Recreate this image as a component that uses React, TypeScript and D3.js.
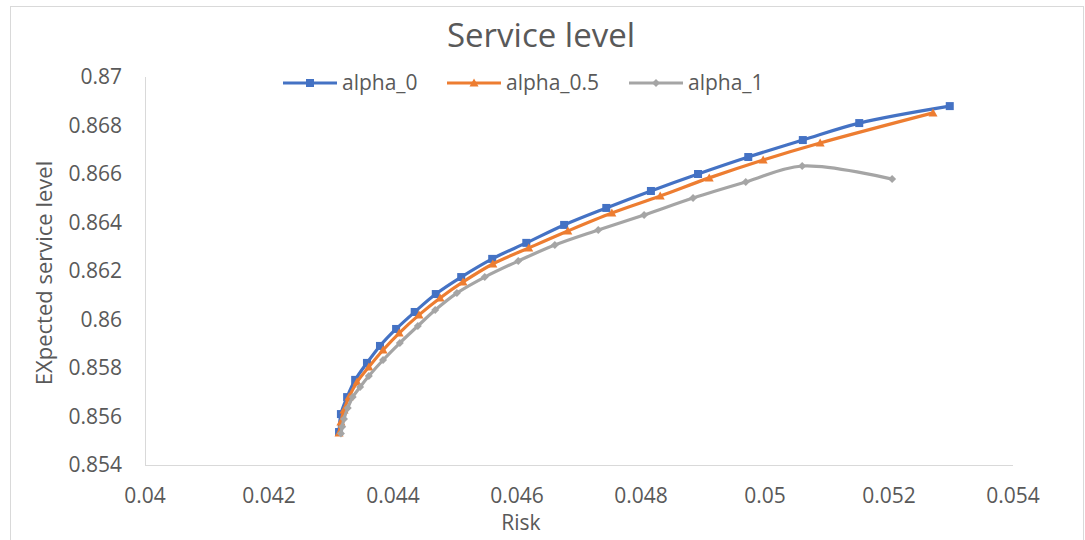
import * as d3 from "d3";
import React from "react";

// Risk (x) / Expected service level (y)
const alpha0Risk = [
  0.04313, 0.04316, 0.04326, 0.04339, 0.04358, 0.04379, 0.04405, 0.04435, 0.04469, 0.0451,
  0.0456, 0.04615, 0.04676, 0.04744, 0.04816, 0.04892, 0.04973, 0.05061, 0.05152, 0.05298,
];
const alpha0Level = [
  0.85536, 0.8561, 0.8568, 0.85751, 0.85821, 0.85891, 0.85961, 0.86031, 0.86105, 0.86175,
  0.8625, 0.86316, 0.8639, 0.8646, 0.8653, 0.866, 0.8667, 0.8674, 0.8681, 0.8688,
];
const alpha05Risk = [
  0.04313, 0.04316, 0.04321, 0.04329, 0.04342, 0.04361, 0.04384, 0.0441, 0.04442, 0.04476,
  0.04513, 0.04561, 0.04619, 0.04682, 0.04753, 0.04831, 0.0491, 0.04997, 0.05089, 0.05271,
];
const alpha05Level = [
  0.85532, 0.85577, 0.85627, 0.8568, 0.85742, 0.85804, 0.85874, 0.85944, 0.86019, 0.86089,
  0.86155, 0.86229, 0.86295, 0.86365, 0.86439, 0.86509, 0.86584, 0.86658, 0.86728, 0.86852,
];
const alpha1Risk = [
  0.04316, 0.04318, 0.04321, 0.04327, 0.04335, 0.04347, 0.04361, 0.04384, 0.04411, 0.0444,
  0.04468, 0.04503, 0.04548, 0.04602, 0.04661, 0.04731, 0.04805, 0.04884, 0.04969, 0.0506,
  0.05205,
];
const alpha1Level = [
  0.8553, 0.85558, 0.8559, 0.85635, 0.8568, 0.85722, 0.85767, 0.85833, 0.85903, 0.85973,
  0.86039, 0.86109, 0.86175, 0.86241, 0.86307, 0.86369, 0.86431, 0.86501, 0.86567, 0.86633,
  0.86579,
];

const xTicks = [0.04, 0.042, 0.044, 0.046, 0.048, 0.05, 0.052, 0.054];
const yTicks = [0.854, 0.856, 0.858, 0.86, 0.862, 0.864, 0.866, 0.868, 0.87];

const seriesNames = ["alpha_0", "alpha_0.5", "alpha_1"];
const seriesColors = ["#4472C4", "#ED7D31", "#A5A5A5"];
const seriesMarkers = ["square", "triangle", "diamond"];

const FONT = "'Open Sans', 'Noto Sans', sans-serif";
const TEXT = "#595959";
const AXIS = "#D9D9D9";

const Marker = ({ kind, x, y, color }: { kind: string; x: number; y: number; color: string }) => {
  if (kind === "square") {
    return <rect x={x - 4} y={y - 4} width={8} height={8} fill={color} />;
  }
  if (kind === "triangle") {
    return <path d={`M${x},${y - 4.5}L${x + 4.5},${y + 3.5}L${x - 4.5},${y + 3.5}Z`} fill={color} />;
  }
  return <path d={`M${x},${y - 4}L${x + 4},${y}L${x},${y + 4}L${x - 4},${y}Z`} fill={color} />;
};

export default function App() {
  const width = 1085;
  const height = 540;
  const x = d3.scaleLinear().domain([0.04, 0.054]).range([145, 1013]);
  const y = d3.scaleLinear().domain([0.854, 0.87]).range([465, 77]);

  const series = [
    alpha0Risk.map((r, i) => [r, alpha0Level[i]] as [number, number]),
    alpha05Risk.map((r, i) => [r, alpha05Level[i]] as [number, number]),
    alpha1Risk.map((r, i) => [r, alpha1Level[i]] as [number, number]),
  ];

  const line = d3
    .line<[number, number]>()
    .x((d) => x(d[0]))
    .y((d) => y(d[1]))
    .curve(d3.curveCatmullRom.alpha(0.5));

  const legendX = [283, 447, 629];

  return (
    <svg
      width={width}
      height={height}
      style={{ position: "absolute", left: 0, top: 0, background: "#fff" }}
      fontFamily={FONT}
    >
      <rect x={10.5} y={6.5} width={1073} height={600} fill="#fff" stroke={AXIS} strokeWidth={1} />

      <text x={541} y={35} dy="0.35em" textAnchor="middle" fontSize={33} fill={TEXT}>
        Service level
      </text>

      {/* axes */}
      <line x1={145.5} x2={145.5} y1={77} y2={465.5} stroke={AXIS} strokeWidth={1} />
      <line x1={145} x2={1013} y1={465.5} y2={465.5} stroke={AXIS} strokeWidth={1} />

      {yTicks.map((t) => (
        <text key={t} x={122} y={y(t)} dy="0.35em" textAnchor="end" fontSize={21} fill={TEXT}>
          {d3.format("")(t)}
        </text>
      ))}
      {xTicks.map((t) => (
        <text key={t} x={x(t)} y={496} dy="0.35em" textAnchor="middle" fontSize={21} fill={TEXT}>
          {d3.format("")(t)}
        </text>
      ))}

      <text x={521} y={523} dy="0.35em" textAnchor="middle" fontSize={21} fill={TEXT}>
        Risk
      </text>
      <text
        transform={`translate(44,273) rotate(-90)`}
        dy="0.35em"
        textAnchor="middle"
        fontSize={22}
        fill={TEXT}
      >
        EXpected service level
      </text>

      {series.map((pts, si) => (
        <g key={si}>
          <path d={line(pts) || ""} fill="none" stroke={seriesColors[si]} strokeWidth={3.2} />
          {pts.map((p, i) => (
            <Marker key={i} kind={seriesMarkers[si]} x={x(p[0])} y={y(p[1])} color={seriesColors[si]} />
          ))}
        </g>
      ))}

      {/* legend */}
      {seriesNames.map((n, i) => (
        <g key={n}>
          <line x1={legendX[i]} x2={legendX[i] + 54} y1={83} y2={83} stroke={seriesColors[i]} strokeWidth={3.2} />
          <Marker kind={seriesMarkers[i]} x={legendX[i] + 27} y={83} color={seriesColors[i]} />
          <text x={legendX[i] + 59} y={83} dy="0.35em" fontSize={21} fill={TEXT}>
            {n}
          </text>
        </g>
      ))}
    </svg>
  );
}
